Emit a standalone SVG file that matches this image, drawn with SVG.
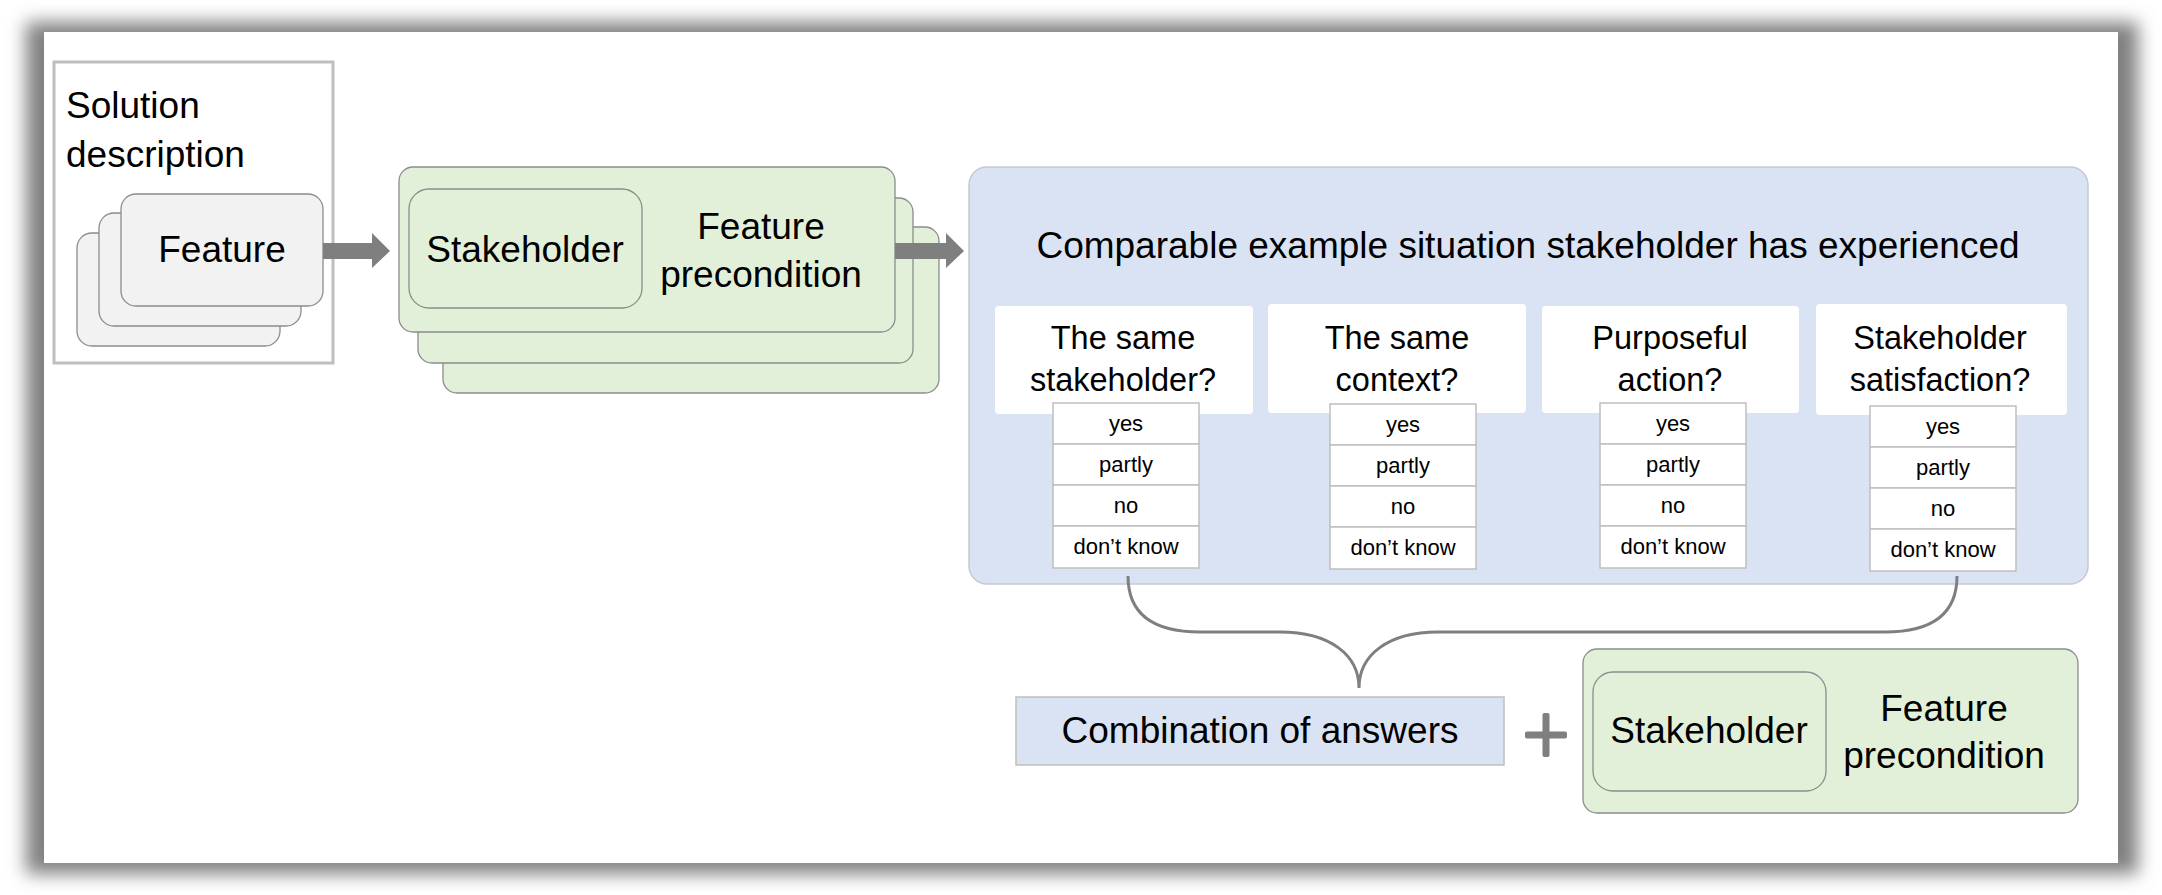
<svg xmlns="http://www.w3.org/2000/svg" width="2162" height="895" viewBox="0 0 2162 895">
<style>
  text { font-family: "Liberation Sans", Arial, sans-serif; fill: #000; }
  .big { font-size: 37px; }
  .q { font-size: 32.5px; text-anchor: middle; }
  .ans { font-size: 22px; text-anchor: middle; }
  .mid { text-anchor: middle; }
  .feat { fill: #f2f2f2; stroke: #8c8c8c; stroke-width: 1.3; }
  .green { fill: #e2f0d9; stroke: #8c8c8c; stroke-width: 1.3; }
  .qbox { fill: #ffffff; }
  .cell { fill: #ffffff; stroke: #bfbfbf; stroke-width: 1.5; }
  .arrow { fill: #7f7f7f; }
</style>
<defs>
  <filter id="shadow" x="-5%" y="-10%" width="110%" height="120%">
    <feGaussianBlur stdDeviation="9"/>
  </filter>
</defs>
<rect x="0" y="0" width="2162" height="895" fill="#ffffff"/>
<rect x="26" y="22" width="2112" height="852" fill="#808080" filter="url(#shadow)"/>
<rect x="44" y="32" width="2074" height="831" fill="#ffffff"/>

<g id="solution-description">
  <rect x="54" y="62" width="279" height="301" fill="#ffffff" stroke="#bfbfbf" stroke-width="3"/>
  <text class="big" x="66" y="118">Solution</text>
  <text class="big" x="66" y="167">description</text>
</g>

<g id="feature-stack">
  <rect class="feat" x="77" y="233" width="203" height="113" rx="15"/>
  <rect class="feat" x="99" y="213" width="202" height="113" rx="15"/>
  <rect class="feat" x="121" y="194" width="202" height="112" rx="15"/>
  <text class="big mid" x="222" y="262">Feature</text>
</g>

<g id="stakeholder-precondition-stack">
  <rect class="green" x="443" y="227" width="496" height="166" rx="14"/>
  <rect class="green" x="418" y="198" width="495" height="165" rx="14"/>
  <rect class="green" x="399" y="167" width="496" height="165" rx="14"/>
  <rect class="green" x="409" y="189" width="233" height="119" rx="20"/>
  <text class="big mid" x="525" y="262">Stakeholder</text>
  <text class="big mid" x="761" y="239">Feature</text>
  <text class="big mid" x="761" y="287">precondition</text>
</g>

<g id="comparable-situation">
  <rect x="969" y="167" width="1119" height="417" rx="18" fill="#dae3f3" stroke="#c4cad3" stroke-width="1.5"/>
  <text class="big mid" x="1528" y="258">Comparable example situation stakeholder has experienced</text>

  <g id="q-same-stakeholder">
    <rect class="qbox" x="995" y="306" width="258" height="108" rx="4"/>
    <text class="q" x="1123" y="349">The same</text>
    <text class="q" x="1123" y="391">stakeholder?</text>
    <rect class="cell" x="1053" y="403" width="146" height="41"/>
    <rect class="cell" x="1053" y="444" width="146" height="41"/>
    <rect class="cell" x="1053" y="485" width="146" height="41"/>
    <rect class="cell" x="1053" y="526" width="146" height="42"/>
    <text class="ans" x="1126" y="431">yes</text>
    <text class="ans" x="1126" y="472">partly</text>
    <text class="ans" x="1126" y="513">no</text>
    <text class="ans" x="1126" y="554">don’t know</text>
  </g>

  <g id="q-same-context">
    <rect class="qbox" x="1268" y="304" width="258" height="109" rx="4"/>
    <text class="q" x="1397" y="349">The same</text>
    <text class="q" x="1397" y="391">context?</text>
    <rect class="cell" x="1330" y="404" width="146" height="41"/>
    <rect class="cell" x="1330" y="445" width="146" height="41"/>
    <rect class="cell" x="1330" y="486" width="146" height="41"/>
    <rect class="cell" x="1330" y="527" width="146" height="42"/>
    <text class="ans" x="1403" y="432">yes</text>
    <text class="ans" x="1403" y="473">partly</text>
    <text class="ans" x="1403" y="514">no</text>
    <text class="ans" x="1403" y="555">don’t know</text>
  </g>

  <g id="q-purposeful-action">
    <rect class="qbox" x="1542" y="306" width="257" height="107" rx="4"/>
    <text class="q" x="1670" y="349">Purposeful</text>
    <text class="q" x="1670" y="391">action?</text>
    <rect class="cell" x="1600" y="403" width="146" height="41"/>
    <rect class="cell" x="1600" y="444" width="146" height="41"/>
    <rect class="cell" x="1600" y="485" width="146" height="41"/>
    <rect class="cell" x="1600" y="526" width="146" height="42"/>
    <text class="ans" x="1673" y="431">yes</text>
    <text class="ans" x="1673" y="472">partly</text>
    <text class="ans" x="1673" y="513">no</text>
    <text class="ans" x="1673" y="554">don’t know</text>
  </g>

  <g id="q-stakeholder-satisfaction">
    <rect class="qbox" x="1816" y="304" width="251" height="111" rx="4"/>
    <text class="q" x="1940" y="349">Stakeholder</text>
    <text class="q" x="1940" y="391">satisfaction?</text>
    <rect class="cell" x="1870" y="406" width="146" height="41"/>
    <rect class="cell" x="1870" y="447" width="146" height="41"/>
    <rect class="cell" x="1870" y="488" width="146" height="41"/>
    <rect class="cell" x="1870" y="529" width="146" height="42"/>
    <text class="ans" x="1943" y="434">yes</text>
    <text class="ans" x="1943" y="475">partly</text>
    <text class="ans" x="1943" y="516">no</text>
    <text class="ans" x="1943" y="557">don’t know</text>
  </g>
</g>

<g id="combination-of-answers">
  <rect x="1016" y="697" width="488" height="68" fill="#dae3f3" stroke="#bfbfbf" stroke-width="1.5"/>
  <text class="big mid" x="1260" y="743">Combination of answers</text>
</g>

<g id="plus">
  <rect x="1525" y="731.5" width="42" height="7" rx="2" fill="#7f7f7f"/>
  <rect x="1542.5" y="713" width="7" height="44" rx="2" fill="#7f7f7f"/>
</g>

<g id="stakeholder-precondition-result">
  <rect class="green" x="1583" y="649" width="495" height="164" rx="14"/>
  <rect class="green" x="1593" y="672" width="233" height="119" rx="20"/>
  <text class="big mid" x="1709" y="743">Stakeholder</text>
  <text class="big mid" x="1944" y="721">Feature</text>
  <text class="big mid" x="1944" y="768">precondition</text>
</g>

<g id="connectors">
  <polygon class="arrow" points="323,243 372,243 372,233 390,251 372,268 372,259 323,259"/>
  <polygon class="arrow" points="895,243 946,243 946,233 964,251 946,268 946,259 895,259"/>
  <path d="M1128,576 C1128,612 1150,632 1200,632 L1280,632 C1330,632 1359,655 1359,688 C1359,655 1388,632 1438,632 L1885,632 C1935,632 1957,612 1957,576" fill="none" stroke="#7f7f7f" stroke-width="3"/>
</g>
</svg>
